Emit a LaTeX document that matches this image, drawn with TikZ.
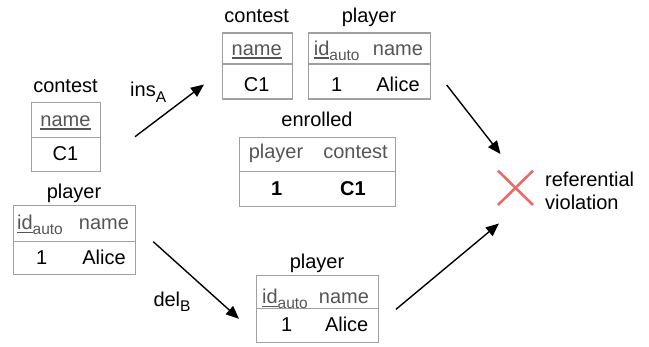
\documentclass[tikz,border=0pt]{standalone}
\usepackage{fontspec}
\setmainfont{Liberation Sans}
\usetikzlibrary{arrows.meta}
\definecolor{bordergray}{HTML}{A0A0A0}
\definecolor{hdrgray}{HTML}{555555}
\definecolor{crossred}{HTML}{EA6B66}
\newcommand\myul[1]{\setbox0\hbox{#1}\rlap{\rule[-4pt]{\wd0}{1.6pt}}\box0}
\newcommand\mysub[1]{\raisebox{-5.5pt}{\fontsize{15.5}{16}\selectfont #1}}
\newcommand\idauto{\myul{id}\mysub{auto}}
\begin{document}
\begin{tikzpicture}[x=1pt,y=-1pt,
  font=\fontsize{20}{24}\selectfont,
  rowbox/.style={draw=bordergray, line width=1.3pt, inner sep=0pt, anchor=north west},
  hd/.style={text=hdrgray, anchor=base, inner sep=0pt},
  dt/.style={text=black, anchor=base, inner sep=0pt},
  ttl/.style={text=black, anchor=base, inner sep=0pt},
  arr/.style={-{Triangle[length=13pt,width=11pt]}, line width=1.4pt, black}]
\useasboundingbox (0,0) rectangle (649,346);

% ---- left contest
\node[rowbox, minimum width=69pt, minimum height=35pt] (lch) at (31,101.7) {};
\node[rowbox, minimum width=69pt, minimum height=34.3pt] (lcd) at (31,136.7) {};
\node[ttl] (lct) at (65.5,92.7) {contest};
\node[hd] (lchn) at (65.5,126) {\myul{name}};
\node[dt] (lcdv) at (65.5,160.7) {C1};

% ---- left player
\node[rowbox, minimum width=122pt, minimum height=35.7pt] (lph) at (13,205) {};
\node[rowbox, minimum width=122pt, minimum height=33.3pt] (lpd) at (13,240.7) {};
\node[ttl] (lpt) at (74,198.3) {player};
\node[hd] (lphi) at (40,229.3) {\idauto};
\node[hd] (lphn) at (104,229.3) {name};
\node[dt] (lpdi) at (41.7,264.3) {1};
\node[dt] (lpdn) at (104,264.3) {Alice};

% ---- top contest
\node[rowbox, minimum width=70pt, minimum height=31pt] (tch) at (221.7,32.3) {};
\node[rowbox, minimum width=70pt, minimum height=35pt] (tcd) at (221.7,63.3) {};
\node[ttl] (tct) at (256.7,22.7) {contest};
\node[hd] (tchn) at (256.7,55) {\myul{name}};
\node[dt] (tcdv) at (256.7,91) {C1};

% ---- top player
\node[rowbox, minimum width=122pt, minimum height=31pt] (tph) at (308,32.3) {};
\node[rowbox, minimum width=122pt, minimum height=35pt] (tpd) at (308,63.3) {};
\node[ttl] (tpt) at (369,22.7) {player};
\node[hd] (tphi) at (336.7,55) {\idauto};
\node[hd] (tphn) at (398,55) {name};
\node[dt] (tpdi) at (336.7,91) {1};
\node[dt] (tpdn) at (398,91) {Alice};

% ---- enrolled
\node[rowbox, minimum width=156pt, minimum height=34.3pt] (eh) at (239,136.7) {};
\node[rowbox, minimum width=156pt, minimum height=35pt] (ed) at (239,171) {};
\node[ttl] (et) at (317,126.7) {enrolled};
\node[hd] (ehp) at (276,158.3) {player};
\node[hd] (ehc) at (355.5,158.3) {contest};
\node[dt] (edp) at (276.7,195) {\bfseries 1};
\node[dt] (edc) at (353,195) {\bfseries C1};

% ---- bottom player
\node[rowbox, minimum width=122.3pt, minimum height=33pt] (bph) at (255.7,275) {};
\node[rowbox, minimum width=122.3pt, minimum height=33.7pt] (bpd) at (255.7,308) {};
\node[ttl] (bpt) at (317,268.3) {player};
\node[hd] (bphi) at (285,303.3) {\idauto};
\node[hd] (bphn) at (344,303.3) {name};
\node[dt] (bpdi) at (286.7,331.7) {1};
\node[dt] (bpdn) at (346.7,331.7) {Alice};

% ---- violation
\draw[crossred, line width=2.6pt] (498,170.7) -- (533,205)
  (498,205) -- (533,170.7);
\node[anchor=west, align=left, inner sep=0pt, font=\fontsize{20}{23}\selectfont] (viol) at (545,190.5) {referential\\violation};

% ---- arrows
\coordinate (a1s) at (135,136.7);
\coordinate (a1e) at (204,84.5);
\coordinate (a2s) at (153.3,241.7);
\coordinate (a2e) at (239,318.8);
\coordinate (a3s) at (446.7,85);
\coordinate (a3e) at (500.5,154);
\coordinate (a4s) at (396,309.3);
\coordinate (a4e) at (499,223.5);
\draw[arr] (a1s) -- (a1e);
\draw[arr] (a2s) -- (a2e);
\draw[arr] (a3s) -- (a3e);
\draw[arr] (a4s) -- (a4e);
\node[anchor=base west, inner sep=0pt] (insA) at (130,96.7) {ins\mysub{A}};
\node[anchor=base west, inner sep=0pt] (delB) at (153.3,306) {del\mysub{B}};
\end{tikzpicture}
\end{document}
